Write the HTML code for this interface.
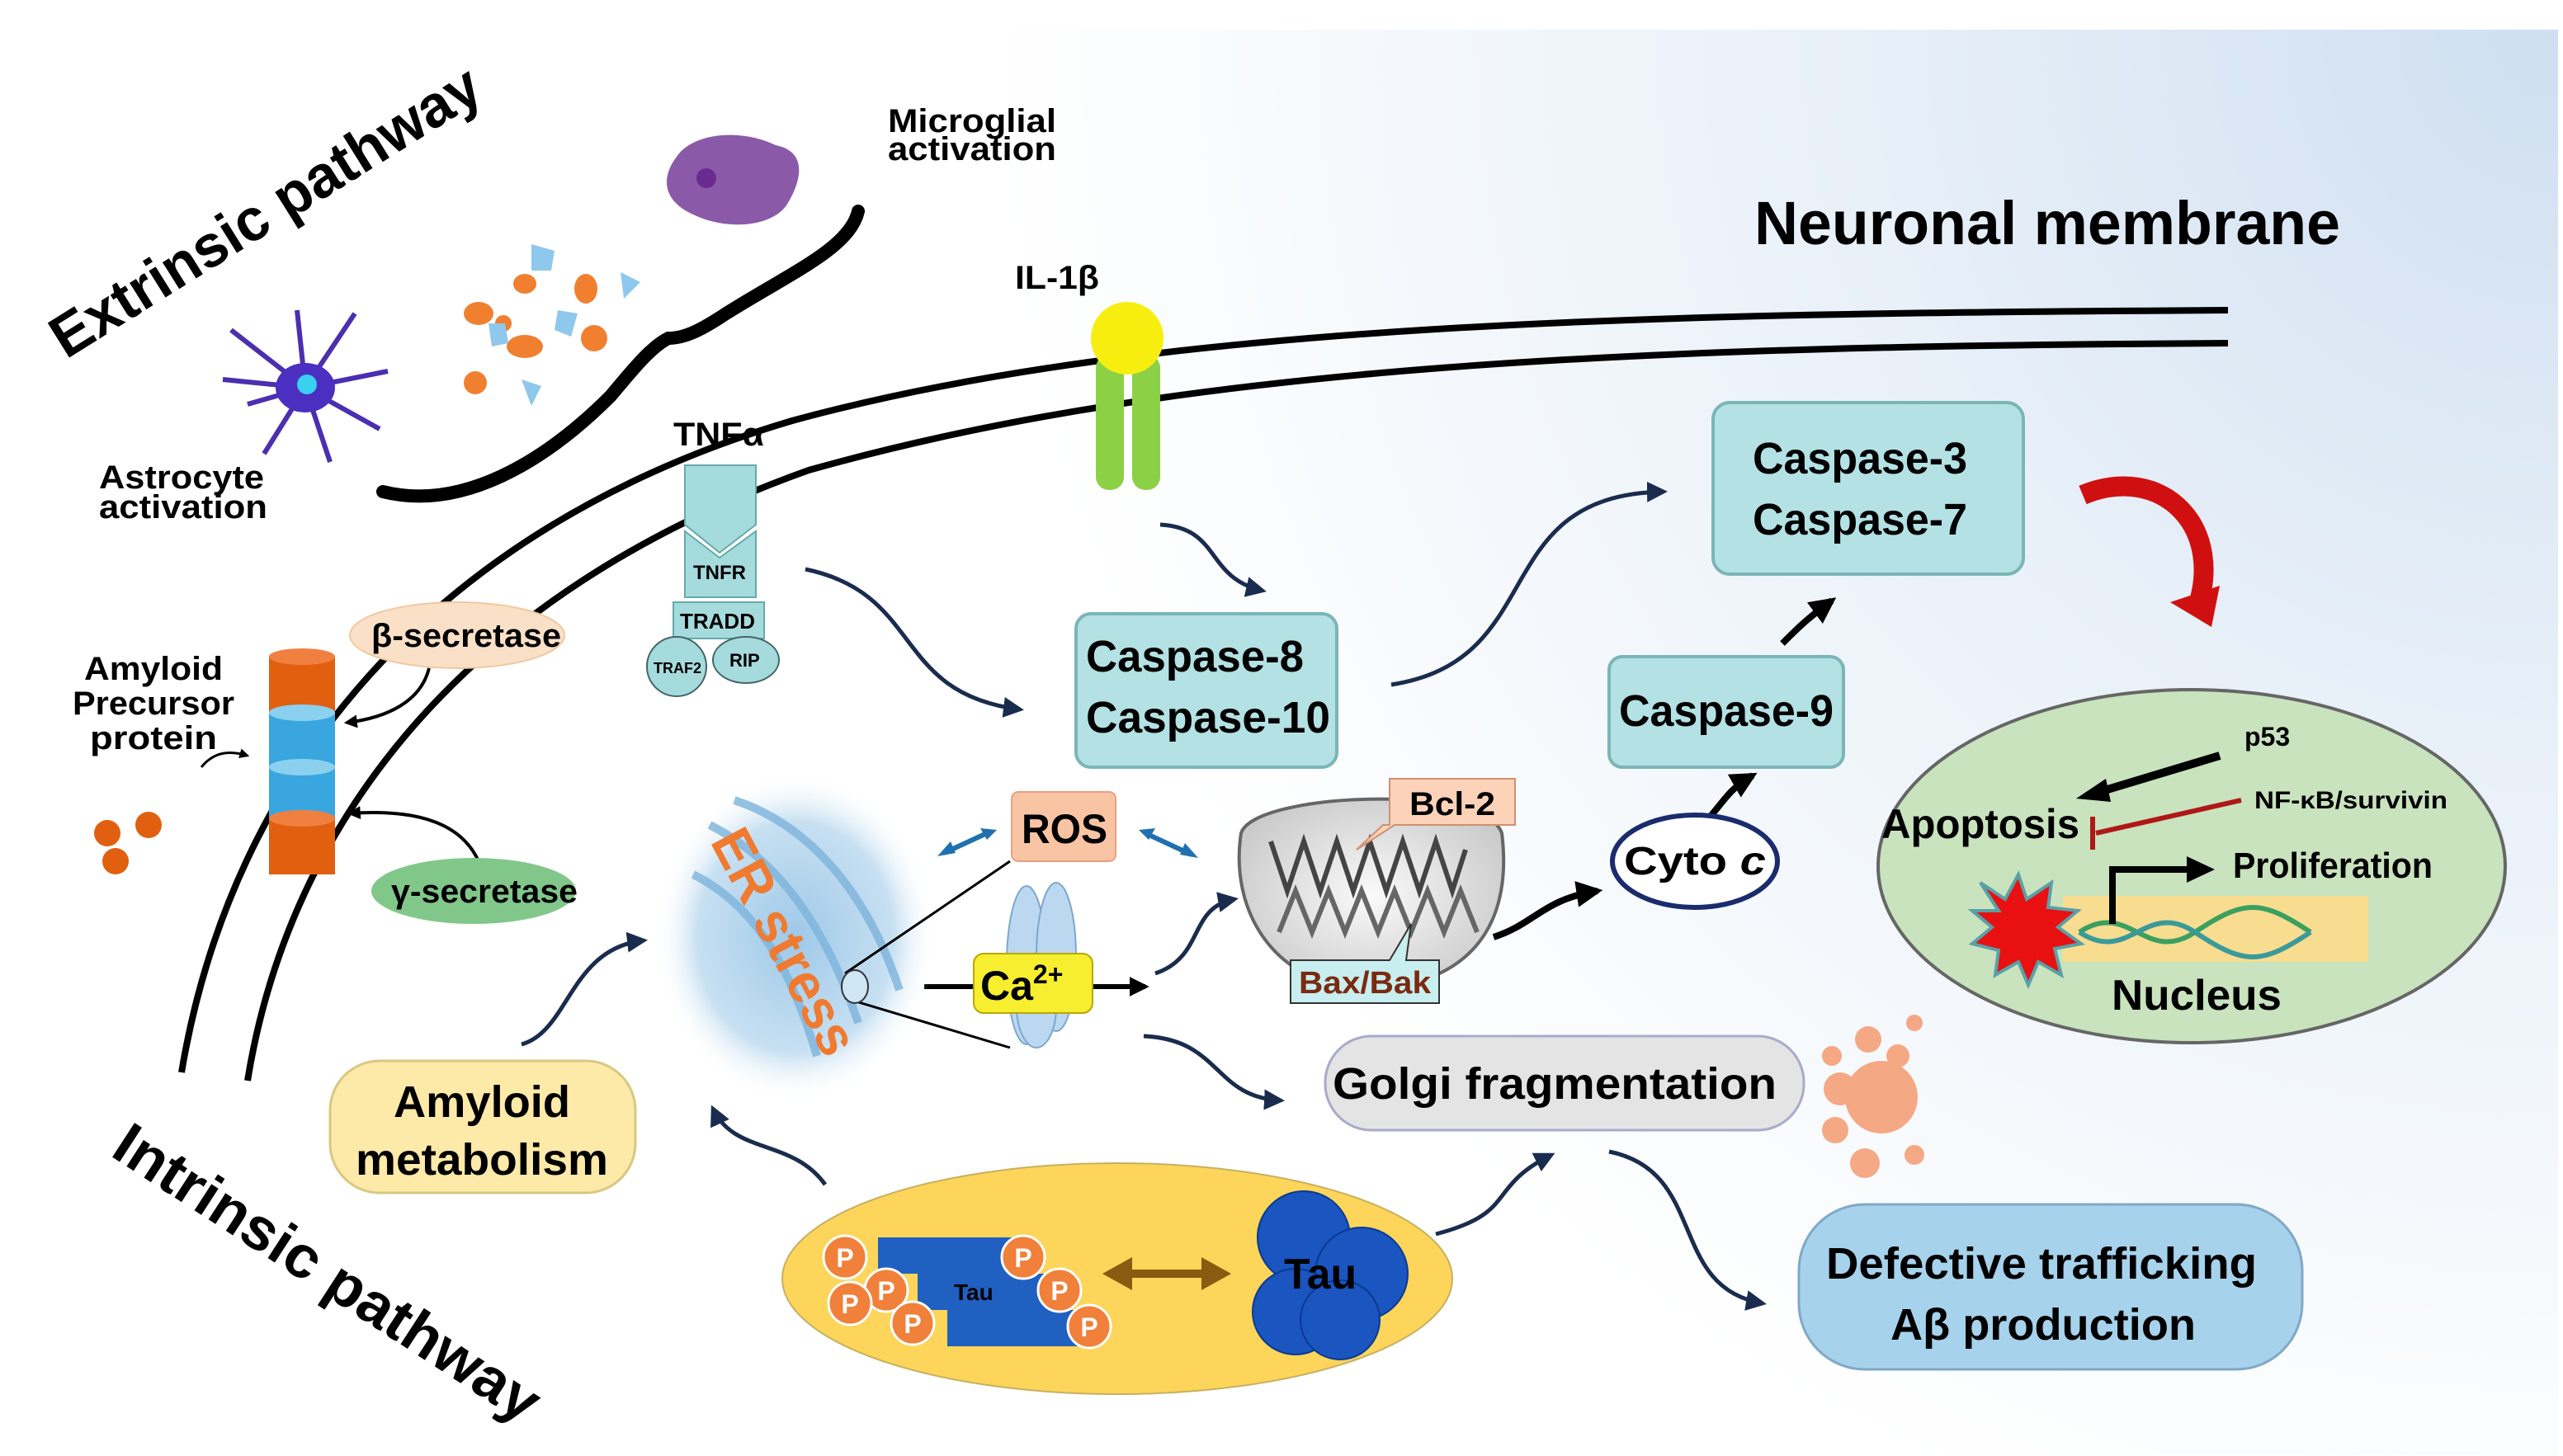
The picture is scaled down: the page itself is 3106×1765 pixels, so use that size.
<!DOCTYPE html>
<html><head><meta charset="utf-8"><style>
html,body{margin:0;padding:0;background:#fff;}
svg{display:block;}
text{font-family:"Liberation Sans",sans-serif;font-weight:bold;}
</style></head><body>
<svg width="3106" height="1765" viewBox="0 0 1553 882.5" xmlns="http://www.w3.org/2000/svg">
<defs>
<radialGradient id="bg" cx="1550" cy="20" r="950" gradientUnits="userSpaceOnUse">
<stop offset="0" stop-color="#cfdff0"/><stop offset="0.45" stop-color="#e8f0f8"/><stop offset="1" stop-color="#ffffff"/></radialGradient>
<marker id="ah" viewBox="0 0 10 10" refX="8" refY="5" markerWidth="5" markerHeight="5" orient="auto"><path d="M0,0L10,5L0,10z" fill="#1a2c4e"/></marker>
<marker id="bh" viewBox="0 0 10 10" refX="8" refY="5" markerWidth="4" markerHeight="4" orient="auto"><path d="M0,0L10,5L0,10z" fill="#000"/></marker>
<radialGradient id="er" cx="0.5" cy="0.5" r="0.5"><stop offset="0" stop-color="#9fc9e8"/><stop offset="0.7" stop-color="#c7e0f2"/><stop offset="1" stop-color="#fff" stop-opacity="0"/></radialGradient>
<radialGradient id="mi" cx="0.5" cy="0.5" r="0.6"><stop offset="0" stop-color="#fafafa"/><stop offset="1" stop-color="#c8c8c8"/></radialGradient>
</defs>
<rect x="0" y="0" width="1553" height="882.5" fill="#fff"/>
<rect x="0" y="18" width="1550" height="864" fill="url(#bg)"/>

<!-- membrane -->
<path d="M110,650 C140,470 260,320 480,255 C700,195 1000,190 1350,188" fill="none" stroke="#000" stroke-width="4"/>
<path d="M150,655 C175,500 280,360 490,285 C720,220 1000,210 1350,208" fill="none" stroke="#000" stroke-width="4"/>

<text x="1063" y="148" font-size="37" textLength="355" lengthAdjust="spacingAndGlyphs">Neuronal membrane</text>
<text transform="translate(40,218) rotate(-32)" font-size="36" textLength="300" lengthAdjust="spacingAndGlyphs">Extrinsic pathway</text>
<text transform="translate(66,700) rotate(33)" font-size="36" textLength="300" lengthAdjust="spacingAndGlyphs">Intrinsic pathway</text>

<!-- brace -->
<path d="M232,298 C280,310 330,280 370,240 C385,222 395,210 405,205 C415,205 425,200 440,190 C480,165 515,150 520,128" fill="none" stroke="#000" stroke-width="8" stroke-linecap="round"/>

<!-- microglia -->
<path d="M410,95 C420,80 450,78 470,88 C490,92 485,110 478,122 C470,138 440,140 420,130 C402,122 400,108 410,95z" fill="#8a5aa8"/>
<circle cx="428" cy="108" r="6" fill="#6a2a90"/>
<text x="538" y="80" font-size="20" textLength="102" lengthAdjust="spacingAndGlyphs">Microglial</text>
<text x="538" y="97" font-size="20" textLength="102" lengthAdjust="spacingAndGlyphs">activation</text>
<!-- astrocyte -->
<g stroke="#4b2fb0" stroke-width="3" fill="none">
<path d="M185,235 L140,200 M185,235 L150,245 M185,235 L160,275 M185,235 L200,280 M185,235 L230,260 M185,235 L235,225 M185,235 L215,190 M185,235 L180,188 M185,235 L135,230"/>
</g>
<ellipse cx="185" cy="235" rx="18" ry="15" fill="#4a2fc0"/>
<circle cx="186" cy="233" r="6" fill="#3ad0f0"/>
<text x="60" y="296" font-size="20" textLength="100" lengthAdjust="spacingAndGlyphs">Astrocyte</text>
<text x="60" y="314" font-size="20" textLength="102" lengthAdjust="spacingAndGlyphs">activation</text>
<!-- cytokines -->
<g fill="#f08030">
<ellipse cx="290" cy="190" rx="9" ry="7"/><ellipse cx="318" cy="172" rx="7" ry="6"/><ellipse cx="355" cy="175" rx="7" ry="9"/>
<ellipse cx="318" cy="210" rx="11" ry="7"/><ellipse cx="360" cy="205" rx="8" ry="8"/><ellipse cx="288" cy="232" rx="7" ry="7"/><ellipse cx="305" cy="196" rx="5" ry="5"/>
</g>
<g fill="#8ec8ec">
<path d="M322,148l14,4l-2,12l-12,0z"/><path d="M376,165l12,6l-10,10z"/><path d="M338,188l12,2l-4,14l-10,-4z"/><path d="M296,196l10,0l2,12l-10,2z"/><path d="M316,230l12,4l-6,12z"/>
</g>

<!-- IL-1b -->
<text x="615" y="175" font-size="20" textLength="51" lengthAdjust="spacingAndGlyphs">IL-1β</text>
<rect x="664" y="215" width="17" height="82" rx="8" fill="#8cd046"/>
<rect x="686" y="215" width="17" height="82" rx="8" fill="#8cd046"/>
<circle cx="683" cy="205" r="22" fill="#f7ee10"/>

<!-- TNF receptor -->
<text x="408" y="270" font-size="20" textLength="55" lengthAdjust="spacingAndGlyphs">TNFα</text>
<path d="M415,282 L458,282 L458,318 L436,335 L415,318z" fill="#a5dbdc" stroke="#6aa" stroke-width="1"/>
<path d="M415,322 L436,338 L458,322 L458,362 L415,362z" fill="#a5dbdc" stroke="#6aa" stroke-width="1"/>
<text x="420" y="351" font-size="12">TNFR</text>
<rect x="408" y="365" width="55" height="22" fill="#a5dbdc" stroke="#6aa"/>
<text x="412" y="381" font-size="13">TRADD</text>
<circle cx="410" cy="404" r="18" fill="#a5dbdc" stroke="#466"/>
<text x="396" y="408" font-size="9" font-weight="normal">TRAF2</text>
<ellipse cx="452" cy="400" rx="20" ry="14" fill="#a5dbdc" stroke="#466"/>
<text x="442" y="404" font-size="11">RIP</text>

<!-- APP -->
<ellipse cx="277" cy="385" rx="65" ry="20" fill="#fbe0c8" stroke="#f0c8a0"/>
<text x="225" y="392" font-size="20" textLength="115" lengthAdjust="spacingAndGlyphs">β-secretase</text>
<rect x="163" y="398" width="40" height="34" fill="#e06010"/>
<ellipse cx="183" cy="398" rx="20" ry="5" fill="#f08040"/>
<rect x="163" y="432" width="40" height="64" fill="#3aa6e0"/>
<ellipse cx="183" cy="432" rx="20" ry="5" fill="#8cd0f0"/>
<ellipse cx="183" cy="465" rx="20" ry="5" fill="#8cd0f0"/>
<rect x="163" y="496" width="40" height="34" fill="#e06010"/>
<ellipse cx="183" cy="496" rx="20" ry="5" fill="#f08040"/>
<text x="93" y="412" font-size="20" text-anchor="middle" textLength="84" lengthAdjust="spacingAndGlyphs">Amyloid</text>
<text x="93" y="433" font-size="20" text-anchor="middle" textLength="98" lengthAdjust="spacingAndGlyphs">Precursor</text>
<text x="93" y="454" font-size="20" text-anchor="middle" textLength="77" lengthAdjust="spacingAndGlyphs">protein</text>
<path d="M122,465 C130,455 140,455 150,458" fill="none" stroke="#000" stroke-width="1.5" marker-end="url(#bh)"/>
<g fill="#e06010"><circle cx="65" cy="505" r="8"/><circle cx="90" cy="500" r="8"/><circle cx="70" cy="522" r="8"/></g>
<path d="M260,405 C255,425 235,435 210,438" fill="none" stroke="#000" stroke-width="2" marker-end="url(#bh)"/>
<path d="M290,522 C280,500 255,490 212,493" fill="none" stroke="#000" stroke-width="2" marker-end="url(#bh)"/>
<ellipse cx="287" cy="540" rx="62" ry="20" fill="#82c78a"/>
<text x="237" y="547" font-size="20" textLength="113" lengthAdjust="spacingAndGlyphs">γ-secretase</text>

<!-- Caspase boxes -->
<rect x="652" y="372" width="158" height="93" rx="9" fill="#b3e1e4" stroke="#7ab5b8" stroke-width="2"/>
<text x="724" y="407" font-size="27" text-anchor="middle" textLength="132" lengthAdjust="spacingAndGlyphs">Caspase-8</text>
<text x="732" y="444" font-size="27" text-anchor="middle" textLength="148" lengthAdjust="spacingAndGlyphs">Caspase-10</text>
<rect x="1038" y="244" width="188" height="104" rx="10" fill="#b3e1e4" stroke="#7ab5b8" stroke-width="2"/>
<text x="1127" y="287" font-size="27" text-anchor="middle" textLength="130" lengthAdjust="spacingAndGlyphs">Caspase-3</text>
<text x="1127" y="324" font-size="27" text-anchor="middle" textLength="130" lengthAdjust="spacingAndGlyphs">Caspase-7</text>
<rect x="975" y="398" width="142" height="67" rx="8" fill="#b3e1e4" stroke="#7ab5b8" stroke-width="2"/>
<text x="1046" y="440" font-size="27" text-anchor="middle" textLength="130" lengthAdjust="spacingAndGlyphs">Caspase-9</text>

<!-- arrows -->
<g fill="none" stroke="#1a2c4e" stroke-width="2.5" marker-end="url(#ah)">
<path d="M488,345 C560,360 540,420 618,430"/>
<path d="M703,318 C740,320 730,350 765,358"/>
<path d="M843,415 C940,400 900,300 1008,298"/>
<path d="M316,633 C345,625 345,575 390,570"/>
<path d="M700,590 C730,580 720,550 748,545"/>
<path d="M693,628 C740,630 735,665 776,667"/>
<path d="M500,718 C480,690 445,700 432,672"/>
<path d="M870,748 C920,735 900,720 940,700"/>
<path d="M975,698 C1035,710 1010,780 1068,790"/>
</g>
<g fill="none" stroke="#000" stroke-width="4" marker-end="url(#bh)">
<path d="M905,568 C930,560 935,545 968,540"/>
<path d="M1037,494 C1045,485 1048,478 1062,470"/>
<path d="M1080,390 C1090,380 1095,375 1110,364"/>
</g>
<path d="M560,598 L590,598" stroke="#000" stroke-width="3"/>
<path d="M660,598 L694,598" stroke="#000" stroke-width="3" marker-end="url(#bh)"/>

<!-- ROS -->
<rect x="613" y="480" width="63" height="42" rx="4" fill="#f9c4a4" stroke="#e8a080"/>
<text x="645" y="511" font-size="25" text-anchor="middle" textLength="52" lengthAdjust="spacingAndGlyphs">ROS</text>
<g stroke="#2070b0" stroke-width="3"><path d="M572,517 L598,505"/><path d="M694,505 L722,518"/></g>
<g fill="#2070b0"><path d="M568,519 l8,-9 l3,7z"/><path d="M604,503 l-10,-1 l4,7z"/><path d="M690,503 l10,-1 l-4,7z"/><path d="M726,520 l-8,-9 l-3,7z"/></g>

<!-- ER -->
<ellipse cx="482" cy="568" rx="85" ry="100" fill="url(#er)"/>
<g fill="none" stroke="#7db4dc" stroke-width="5" opacity="0.8">
<path d="M430,500 C470,520 500,560 520,620"/><path d="M420,530 C460,550 480,590 495,640"/><path d="M445,485 C490,500 525,540 545,600"/>
</g>
<text transform="translate(430,510) rotate(62)" font-size="34" fill="#f07a30" textLength="150" lengthAdjust="spacingAndGlyphs">ER stress</text>
<path d="M512,590 L612,522 M512,605 L612,635" stroke="#000" stroke-width="1.5"/>
<ellipse cx="518" cy="598" rx="8" ry="10" fill="#cfe6f5" stroke="#333"/>
<!-- channel -->
<g fill="#bcd8f0" stroke="#7aa8d0"><ellipse cx="622" cy="585" rx="12" ry="48"/><ellipse cx="640" cy="580" rx="12" ry="45"/><ellipse cx="628" cy="610" rx="12" ry="25"/></g>
<rect x="590" y="578" width="72" height="36" rx="6" fill="#f7ee30" stroke="#b8a800"/>
<text x="594" y="606" font-size="25">Ca<tspan font-size="16" dy="-10">2+</tspan></text>

<!-- mito -->
<path d="M752,505 C760,480 900,475 910,505 C915,545 905,595 830,600 C770,598 745,550 752,505z" fill="url(#mi)" stroke="#666" stroke-width="2"/>
<path d="M770,510 l10,30 l10,-30 l10,30 l10,-30 l10,30 l10,-30 l10,30 l10,-30 l10,30 l10,-30 l10,30 l8,-25" fill="none" stroke="#444" stroke-width="3"/>
<path d="M775,565 l10,-25 l10,25 l10,-25 l10,25 l10,-25 l10,25 l10,-25 l10,25 l10,-25 l10,25 l10,-25 l10,25" fill="none" stroke="#666" stroke-width="3"/>
<path d="M842,472 L918,472 L918,500 L845,500 L822,515 L838,500 L842,500z" fill="#fcd3b8" stroke="#d09070"/>
<text x="880" y="494" font-size="20" text-anchor="middle" textLength="52" lengthAdjust="spacingAndGlyphs">Bcl-2</text>
<path d="M782,582 L842,582 L855,560 L852,582 L872,582 L872,608 L782,608z" fill="#c8eef0" stroke="#333"/>
<text x="827" y="602" font-size="19" text-anchor="middle" fill="#7a2a10" textLength="80" lengthAdjust="spacingAndGlyphs">Bax/Bak</text>

<!-- Cyto c -->
<ellipse cx="1027" cy="522" rx="50" ry="28" fill="#fff" stroke="#1a2c6e" stroke-width="3"/>
<text x="1027" y="530" font-size="24" text-anchor="middle" textLength="86" lengthAdjust="spacingAndGlyphs">Cyto <tspan font-style="italic">c</tspan></text>

<!-- red arrow -->
<path d="M1262,300 C1310,280 1350,320 1330,372" fill="none" stroke="#d01010" stroke-width="12"/>
<path d="M1315,365 L1340,380 L1345,355z" fill="#d01010"/>

<!-- Nucleus -->
<ellipse cx="1328" cy="525" rx="190" ry="107" fill="#c8e3bd" stroke="#666" stroke-width="2"/>
<rect x="1250" y="543" width="185" height="40" fill="#f8dc90"/>
<path d="M1260,565 C1290,545 1300,585 1330,565 S1370,545 1400,565" fill="none" stroke="#3aa060" stroke-width="3"/>
<path d="M1260,565 C1290,585 1300,545 1330,565 S1370,585 1400,565" fill="none" stroke="#3a9a9a" stroke-width="3"/>
<path d="M1200,535 l15,10 l8,-15 l5,15 l15,-10 l-2,15 l18,2 l-12,10 l14,10 l-16,3 l4,16 l-14,-8 l-6,14 l-6,-14 l-14,8 l2,-15 l-16,-4 l12,-10 l-12,-10 l16,0z" fill="#e81010" stroke="#5aa0a8" stroke-width="2"/>
<path d="M1280,560 L1280,527 L1328,527" fill="none" stroke="#000" stroke-width="4"/>
<path d="M1325,519 L1342,527 L1325,535z" fill="#000"/>
<text x="1353" y="532" font-size="22" textLength="121" lengthAdjust="spacingAndGlyphs">Proliferation</text>
<text x="1140" y="508" font-size="25" textLength="120" lengthAdjust="spacingAndGlyphs">Apoptosis</text>
<text x="1360" y="452" font-size="16">p53</text>
<text x="1366" y="490" font-size="15" textLength="117" lengthAdjust="spacingAndGlyphs">NF-κB/survivin</text>
<path d="M1345,458 L1272,480" stroke="#000" stroke-width="5"/>
<path d="M1258,484 L1276,472 L1279,486z" fill="#000"/>
<path d="M1358,485 L1270,505" stroke="#b01818" stroke-width="3"/>
<path d="M1268,495 L1268,515" stroke="#b01818" stroke-width="3"/>
<text x="1331" y="612" font-size="26" text-anchor="middle" textLength="103" lengthAdjust="spacingAndGlyphs">Nucleus</text>

<!-- golgi -->
<rect x="803" y="628" width="290" height="57" rx="28" fill="#e4e4e4" stroke="#aac" stroke-width="1.5"/>
<text x="942" y="666" font-size="27" text-anchor="middle" textLength="269" lengthAdjust="spacingAndGlyphs">Golgi  fragmentation</text>
<g fill="#f59a70" opacity="0.85">
<circle cx="1140" cy="665" r="22"/><circle cx="1115" cy="660" r="10"/><circle cx="1132" cy="630" r="8"/><circle cx="1150" cy="640" r="7"/>
<circle cx="1112" cy="685" r="8"/><circle cx="1130" cy="705" r="9"/><circle cx="1160" cy="700" r="6"/><circle cx="1110" cy="640" r="6"/><circle cx="1160" cy="620" r="5"/>
</g>

<!-- Amyloid metabolism -->
<rect x="200" y="643" width="185" height="80" rx="30" fill="#fde9a8" stroke="#d8c880" stroke-width="1.5"/>
<text x="292" y="677" font-size="27" text-anchor="middle" textLength="107" lengthAdjust="spacingAndGlyphs">Amyloid</text>
<text x="292" y="712" font-size="27" text-anchor="middle" textLength="153" lengthAdjust="spacingAndGlyphs">metabolism</text>

<!-- Tau -->
<ellipse cx="677" cy="775" rx="203" ry="70" fill="#fcd55a" stroke="#c8b060"/>
<rect x="532" y="750" width="90" height="22" fill="#2060c0"/>
<rect x="556" y="772" width="82" height="22" fill="#2060c0"/>
<rect x="574" y="794" width="82" height="22" fill="#2060c0"/>
<text x="578" y="788" font-size="14">Tau</text>
<g fill="#f0803a" stroke="#fff" stroke-width="1.5">
<circle cx="512" cy="762" r="13"/><circle cx="537" cy="782" r="13"/><circle cx="515" cy="790" r="13"/><circle cx="553" cy="802" r="13"/>
<circle cx="620" cy="762" r="13"/><circle cx="642" cy="782" r="13"/><circle cx="660" cy="804" r="13"/>
</g>
<g font-size="16" fill="#fff" text-anchor="middle"><text x="512" y="768">P</text><text x="537" y="788">P</text><text x="515" y="796">P</text><text x="553" y="808">P</text><text x="620" y="768">P</text><text x="642" y="788">P</text><text x="660" y="810">P</text></g>
<path d="M683,772 L732,772" stroke="#8a5a10" stroke-width="5"/>
<path d="M668,772 L686,762 L686,782z M746,772 L728,762 L728,782z" fill="#8a5a10"/>
<g fill="#1a55c0" stroke="#0a3a90"><circle cx="790" cy="750" r="28"/><circle cx="825" cy="772" r="28"/><circle cx="785" cy="795" r="26"/><circle cx="812" cy="800" r="24"/></g>
<text x="800" y="781" font-size="26" text-anchor="middle" textLength="44" lengthAdjust="spacingAndGlyphs">Tau</text>

<!-- defective -->
<rect x="1090" y="730" width="305" height="100" rx="40" fill="#a6d2ec" stroke="#80a8c8" stroke-width="1.5"/>
<text x="1237" y="775" font-size="27" text-anchor="middle" textLength="261" lengthAdjust="spacingAndGlyphs">Defective trafficking</text>
<text x="1238" y="812" font-size="27" text-anchor="middle" textLength="185" lengthAdjust="spacingAndGlyphs">Aβ production</text>
</svg>
</body></html>
